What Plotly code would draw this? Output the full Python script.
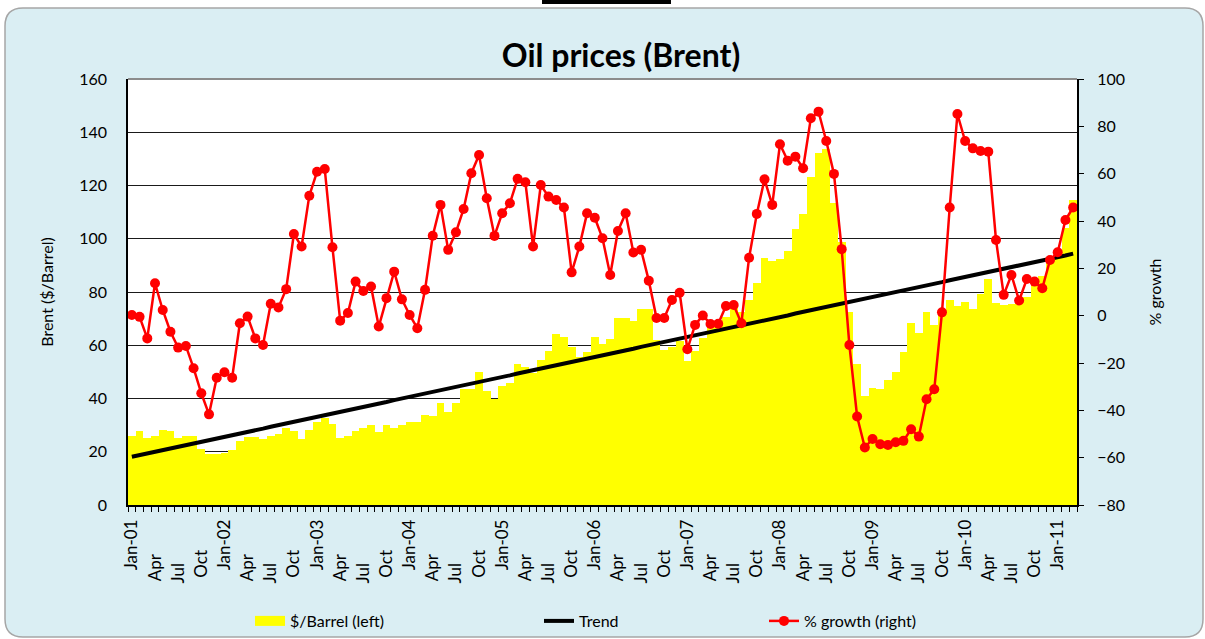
import plotly.graph_objects as go

# ---------------- data ----------------
MONTHS = ["Jan", "Feb", "Mar", "Apr", "May", "Jun",
          "Jul", "Aug", "Sep", "Oct", "Nov", "Dec"]
FIRST_YEAR = 1  # 2001

price = [
    26.0, 27.8, 25.0, 26.0, 28.2, 27.8, 25.0, 26.0, 26.0, 21.0, 19.0, 19.0,   # 2001
    19.6, 20.7, 24.0, 25.7, 25.7, 24.7, 26.0, 26.7, 29.0, 27.8, 24.7, 28.2,   # 2002
    31.3, 32.8, 30.4, 25.0, 26.0, 27.8, 29.0, 30.0, 27.3, 30.0, 29.0, 30.0,   # 2003
    31.3, 31.3, 33.8, 33.4, 38.2, 35.1, 38.4, 43.4, 43.4, 50.1, 42.8, 40.0,   # 2004
    44.7, 45.7, 53.0, 51.9, 49.5, 54.5, 57.8, 64.1, 63.2, 59.2, 55.7, 57.3,   # 2005
    63.0, 60.4, 62.2, 70.1, 70.1, 69.2, 73.6, 73.6, 62.0, 58.2, 59.2, 61.6,   # 2006
    54.1, 57.8, 62.6, 66.5, 67.5, 70.5, 75.5, 72.5, 77.0, 83.3, 92.6, 91.6,   # 2007
    92.4, 95.4, 103.7, 109.3, 123.3, 132.3, 133.6, 113.3, 98.9, 72.4, 52.8, 40.9,  # 2008
    43.8, 43.4, 46.9, 50.1, 57.6, 68.5, 64.7, 72.6, 67.6, 72.6, 77.0, 74.9,   # 2009
    76.4, 73.6, 79.2, 84.9, 76.0, 75.1, 75.4, 77.0, 78.2, 83.5, 86.0, 91.5,   # 2010
    95.5, 103.9, 114.6,                                                       # 2011
]

trend = [
    18.1, 18.7, 19.4, 20.0, 20.6, 21.2, 21.9, 22.5, 23.1, 23.7, 24.4, 25.0,
    25.6, 26.2, 26.9, 27.5, 28.1, 28.7, 29.4, 30.0, 30.6, 31.2, 31.9, 32.5,
    33.1, 33.7, 34.4, 35.0, 35.6, 36.2, 36.9, 37.5, 38.1, 38.7, 39.4, 40.0,
    40.6, 41.2, 41.9, 42.5, 43.1, 43.7, 44.4, 45.0, 45.6, 46.2, 46.9, 47.5,
    48.1, 48.7, 49.4, 50.0, 50.6, 51.2, 51.9, 52.5, 53.1, 53.7, 54.4, 55.0,
    55.6, 56.2, 56.9, 57.5, 58.1, 58.7, 59.4, 60.0, 60.6, 61.2, 61.9, 62.5,
    63.1, 63.7, 64.4, 65.0, 65.6, 66.2, 66.9, 67.5, 68.1, 68.7, 69.4, 70.0,
    70.6, 71.2, 71.9, 72.5, 73.1, 73.7, 74.4, 75.0, 75.6, 76.2, 76.9, 77.5,
    78.1, 78.7, 79.4, 80.0, 80.6, 81.2, 81.9, 82.5, 83.1, 83.7, 84.4, 85.0,
    85.6, 86.2, 86.9, 87.5, 88.1, 88.7, 89.4, 90.0, 90.6, 91.2, 91.9, 92.5,
    93.1, 93.7, 94.4,
]

growth = [
    0.3, -0.5, -9.6, 13.7, 2.4, -6.8, -13.5, -12.8, -22.2, -32.8, -41.7, -26.2,   # 2001
    -23.9, -26.2, -3.2, -0.4, -9.6, -12.4, 5.0, 3.5, 11.2, 34.5, 29.2, 50.7,      # 2002
    60.8, 62.0, 28.9, -2.1, 1.1, 14.4, 10.4, 12.3, -4.6, 7.4, 18.6, 6.9,          # 2003
    0.3, -5.3, 10.9, 33.8, 46.8, 27.8, 35.2, 45.1, 60.2, 67.9, 49.6, 33.7,        # 2004
    43.3, 47.5, 57.8, 56.4, 29.2, 55.2, 50.3, 48.9, 45.7, 18.3, 29.2, 43.3,       # 2005
    41.4, 32.7, 17.2, 35.8, 43.3, 26.7, 27.8, 14.8, -1.0, -1.0, 6.6, 9.7,         # 2006
    -14.2, -3.9, 0.1, -3.5, -3.4, 4.1, 4.5, -3.2, 24.5, 43.0, 57.6, 46.8,         # 2007
    72.4, 65.5, 67.2, 62.3, 83.4, 86.2, 73.8, 59.9, 28.1, -12.4, -42.6, -55.7,    # 2008
    -52.1, -54.3, -54.6, -53.5, -52.9, -48.0, -51.1, -35.3, -31.1, 1.4, 45.7, 85.2,  # 2009
    73.8, 70.7, 69.6, 69.3, 32.0, 8.8, 17.2, 6.4, 15.5, 14.4, 11.6, 23.5,         # 2010
    26.8, 40.4, 45.7,                                                             # 2011
]

# ---------------- axis labels ----------------
N = len(price)
x = list(range(N))
PAD = {"Apr": 8, "Jul": 10, "Oct": 7}   # bottom-align the rotated labels
tick_idx = x[::3]
tick_text = []
for i in tick_idx:
    m = MONTHS[i % 12]
    if i % 12 == 0:
        tick_text.append(f"{m}-{FIRST_YEAR + i // 12:02d}")
    else:
        tick_text.append(m + "\u00a0" * PAD.get(m, 0))

# ---------------- geometry ----------------
W, H = 1205, 639
L, R, T, B = 128, 128, 79, 134
pw, ph = W - L - R, H - T - B


def px(v):
    return (v - L) / pw


def py(v):
    return (H - B - v) / ph


def rounded_rect(x0, y0, x1, y1, r):
    X0, X1 = px(x0), px(x1)
    Y0, Y1 = py(y0), py(y1)
    rx, ry = r / pw, r / ph
    return (f"M {X0 + rx},{Y0} L {X1 - rx},{Y0} Q {X1},{Y0} {X1},{Y0 - ry} "
            f"L {X1},{Y1 + ry} Q {X1},{Y1} {X1 - rx},{Y1} "
            f"L {X0 + rx},{Y1} Q {X0},{Y1} {X0},{Y1 + ry} "
            f"L {X0},{Y0 - ry} Q {X0},{Y0} {X0 + rx},{Y0} Z")


FONT = "Lato, 'Open Sans', sans-serif"
YELLOW = "#FFFF00"

fig = go.Figure()
fig.add_trace(go.Bar(
    x=x, y=price, name="$/Barrel (left)", showlegend=False,
    marker=dict(color=YELLOW, line=dict(width=0)),
))
# legend entry for the bars (wide yellow swatch, as in the reference)
fig.add_trace(go.Scatter(
    x=[None], y=[None], name="$/Barrel (left)", mode="lines",
    line=dict(color=YELLOW, width=14), legend="legend",
))
fig.add_trace(go.Scatter(
    x=x, y=trend, name="Trend", mode="lines",
    line=dict(color="black", width=4), legend="legend2",
))
fig.add_trace(go.Scatter(
    x=x, y=growth, name="% growth (right)", mode="lines+markers", yaxis="y2",
    line=dict(color="#FF0000", width=2.5),
    marker=dict(color="#FF0000", size=10), legend="legend3",
))

leg_common = dict(orientation="h", xanchor="left", y=py(621), yanchor="middle",
                  font=dict(size=16), bgcolor="rgba(0,0,0,0)")

fig.update_layout(
    width=W, height=H,
    margin=dict(l=L, r=R, t=T, b=B, autoexpand=False),
    paper_bgcolor="white", plot_bgcolor="white",
    font=dict(family=FONT, size=16, color="black"),
    bargap=0,
    title=dict(text="<b>Oil prices (Brent)</b>", xref="container", x=621 / W,
               xanchor="center", yref="container", y=1 - 56 / H, yanchor="middle",
               font=dict(size=32, color="black", family=FONT)),
    xaxis=dict(
        range=[-0.5, N - 0.5], tickmode="array", tickvals=tick_idx, ticktext=tick_text,
        tickangle=-90, ticks="", showgrid=False, zeroline=False,
        showline=True, linecolor="black", linewidth=1.5,
        tickfont=dict(size=17), ticklabelstandoff=6,
        minor=dict(ticks="outside", ticklen=5, tickcolor="black", tickwidth=1,
                   tickmode="linear", tick0=-0.5, dtick=1, showgrid=False),
    ),
    yaxis=dict(
        range=[0, 160], dtick=20, showgrid=True, gridcolor="#1a1a1a", gridwidth=1.3,
        zeroline=False, showline=True, linecolor="black", linewidth=1.5,
        ticks="", ticklabelstandoff=16, tickfont=dict(size=16),
        title=dict(text="Brent ($/Barrel)", font=dict(size=16), standoff=22),
    ),
    yaxis2=dict(
        overlaying="y", side="right", range=[-80, 100], dtick=20,
        showgrid=False, zeroline=False, showline=True, linecolor="black", linewidth=2,
        ticks="outside", ticklen=5, tickcolor="black", ticklabelstandoff=10,
        tickfont=dict(size=16),
        title=dict(text="% growth", font=dict(size=16), standoff=26),
    ),
    legend=dict(x=px(250), **leg_common),
    legend2=dict(x=px(539), **leg_common),
    legend3=dict(x=px(764), **leg_common),
    shapes=[
        dict(type="path", xref="paper", yref="paper", layer="below",
             path=rounded_rect(5, 8, 1203, 637, 18),
             fillcolor="#DAEEF3", line=dict(color="#A6A6A6", width=1.5)),
        dict(type="rect", xref="paper", yref="paper", layer="below",
             x0=0, x1=1, y0=0, y1=1, fillcolor="white", line=dict(width=0)),
        dict(type="line", xref="paper", yref="paper", layer="above",
             x0=0, x1=1, y0=1, y1=1, line=dict(color="#8C8C8C", width=2)),
        dict(type="rect", xref="paper", yref="paper", layer="above",
             x0=px(542), x1=px(671), y0=py(4), y1=py(0),
             fillcolor="black", line=dict(width=0)),
    ],
)

fig.write_html("out.html", config={"displayModeBar": False},
               post_script="document.body.style.margin='0';")
